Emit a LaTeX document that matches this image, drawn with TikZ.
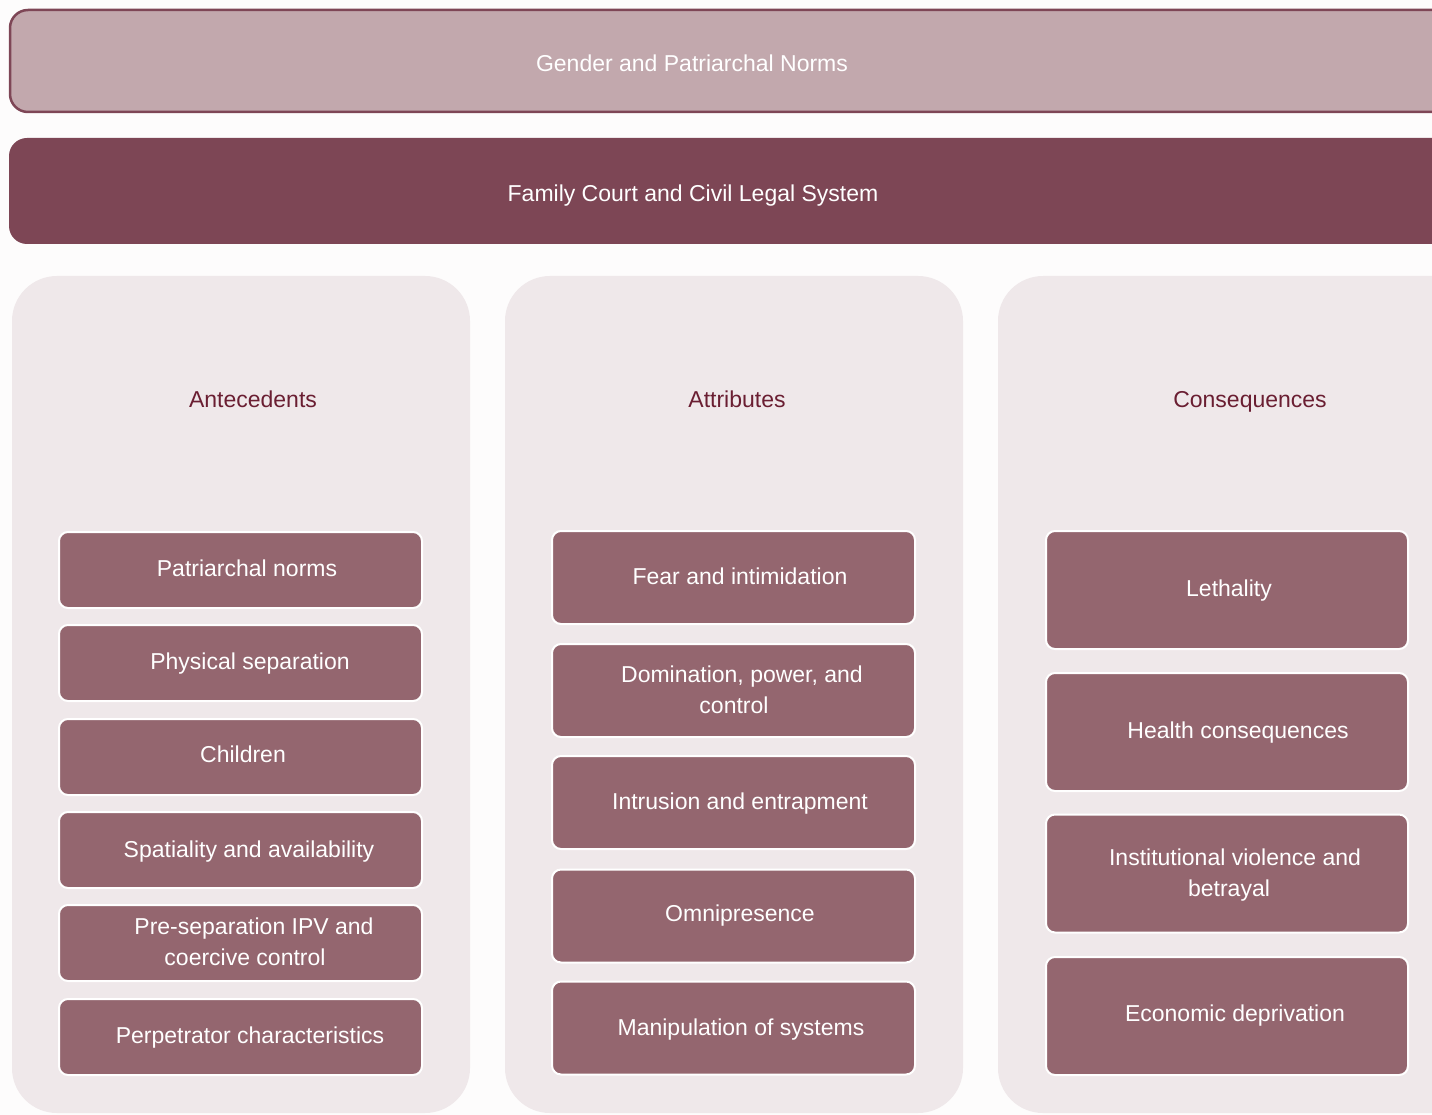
\documentclass[tikz,border=0pt]{standalone}
\usepackage{fontspec}
\setmainfont{Liberation Sans}
\definecolor{pagebg}{HTML}{FDFCFC}
\definecolor{panelfill}{HTML}{EFE8EA}
\definecolor{normfill}{HTML}{C2A8AD}
\definecolor{normline}{HTML}{7E4656}
\definecolor{courtfill}{HTML}{7D4655}
\definecolor{cellfill}{HTML}{94666F}
\definecolor{headtext}{HTML}{6A1E32}
\tikzset{
  panel/.style={fill=panelfill, draw=none, rounded corners=45pt},
  cell/.style={rectangle, fill=cellfill, draw=white, line width=2pt, rounded corners=9pt, inner sep=0pt},
  leftcell/.style={cell, minimum width=363pt, minimum height=76pt},
  midcell/.style={cell, minimum width=363pt, minimum height=93pt},
  rightcell/.style={cell, minimum width=362pt, minimum height=118pt},
  celltext/.style={text=white, anchor=base, align=center, inner sep=0pt,
    font=\fontsize{23}{31}\selectfont},
  headlabel/.style={text=headtext, anchor=base, inner sep=0pt,
    font=\fontsize{23}{31}\selectfont},
}
\begin{document}
\begin{tikzpicture}[x=1pt, y=-1pt]
\useasboundingbox (0,0) rectangle (1432,1115);
\clip (0,0) rectangle (1432,1115);
\fill[pagebg] (0,0) rectangle (1432,1115);

% framing bands across the top
\draw[fill=normfill, draw=normline, line width=2.5pt, rounded corners=18pt] (10,10) rectangle (1470,112);
\node[celltext] (norms) at (692,72) {Gender and Patriarchal Norms};
\fill[courtfill, rounded corners=18pt] (9,138) rectangle (1470,244);
\node[celltext] (court) at (693,202) {Family Court and Civil Legal System};

% three column panels
\fill[panel] (12,276) rectangle (470,1113);
\fill[panel] (505,276) rectangle (963,1113);
\fill[panel] (998,276) rectangle (1480,1113);

\node[headlabel] (hA) at (253,407.5) {Antecedents};
\node[headlabel] (hB) at (737,407.5) {Attributes};
\node[headlabel] (hC) at (1250,407.5) {Consequences};

% antecedents (multi-line labels are placed by their last baseline)
\node[leftcell] (a1) at (240.5,570) {};
\node[leftcell] (a2) at (240.5,663) {};
\node[leftcell] (a3) at (240.5,757) {};
\node[leftcell] (a4) at (240.5,850) {};
\node[leftcell] (a5) at (240.5,943) {};
\node[leftcell] (a6) at (240.5,1037) {};
\node[celltext] (ta1) at (247,576.5) {Patriarchal norms};
\node[celltext] (ta2) at (250,669.5) {Physical separation};
\node[celltext] (ta3) at (243,762.5) {Children};
\node[celltext] (ta4) at (249,857.5) {Spatiality and availability};
\node[celltext] (ta5) at (254,965.5) {Pre-separation IPV and\\coercive control\hspace*{18pt}};
\node[celltext] (ta6) at (250,1043.5) {Perpetrator characteristics};

% attributes
\node[midcell] (b1) at (733.5,577.5) {};
\node[midcell] (b2) at (733.5,690.5) {};
\node[midcell] (b3) at (733.5,802.5) {};
\node[midcell] (b4) at (733.5,916) {};
\node[midcell] (b5) at (733.5,1028) {};
\node[celltext] (tb1) at (740,584.5) {Fear and intimidation};
\node[celltext] (tb2) at (742,713) {Domination, power, and\\control\hspace*{16pt}};
\node[celltext] (tb3) at (740,809.5) {Intrusion and entrapment};
\node[celltext] (tb4) at (740,921.5) {Omnipresence};
\node[celltext] (tb5) at (741,1035.5) {Manipulation of systems};

% consequences
\node[rightcell] (c1) at (1227,590) {};
\node[rightcell] (c2) at (1227,732) {};
\node[rightcell] (c3) at (1227,873.5) {};
\node[rightcell] (c4) at (1227,1016) {};
\node[celltext] (tc1) at (1229,596.5) {Lethality};
\node[celltext] (tc2) at (1238,738.5) {Health consequences};
\node[celltext] (tc3) at (1235,896.5) {Institutional violence and\\betrayal\hspace*{12pt}};
\node[celltext] (tc4) at (1235,1021.5) {Economic deprivation};
\end{tikzpicture}
\end{document}
